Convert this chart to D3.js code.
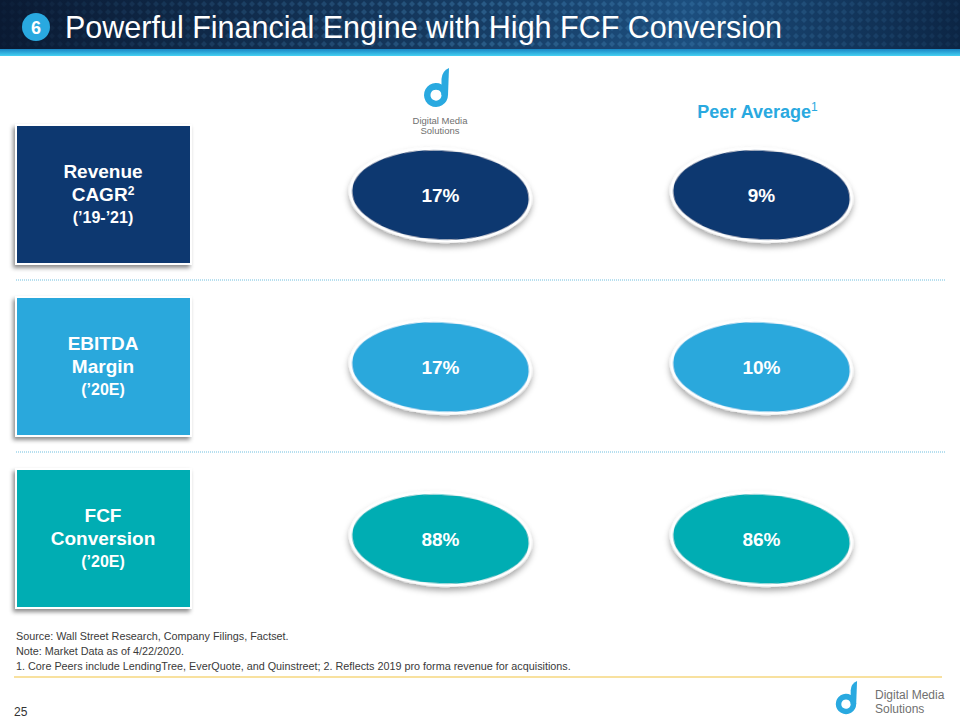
<!DOCTYPE html>
<html><head><meta charset="utf-8">
<script src="https://cdn.jsdelivr.net/npm/d3@7"></script>
<style>html,body{margin:0;padding:0;background:#fff;}svg{display:block;font-family:"Liberation Sans",Arial,sans-serif;}</style>
</head><body>
<script>
const metrics = ["Revenue", "EBITDA", "FCF"];
const labelLines = [["Revenue", "CAGR", "(’19-’21)"], ["EBITDA", "Margin", "(’20E)"], ["FCF", "Conversion", "(’20E)"]];
const labelSup = ["2", "", ""];
const columns = ["DMS", "Peer Average"];
const dmsValues = [17, 17, 88];
const peerValues = [9, 10, 86];
const rowColors = ["#0b3870", "#29a8dc", "#00adb3"];
const footnotes = [
  "Source: Wall Street Research, Company Filings, Factset.",
  "Note: Market Data as of 4/22/2020.",
  "1. Core Peers include LendingTree, EverQuote, and Quinstreet; 2. Reflects 2019 pro forma revenue for acquisitions."
];

const W = 960, H = 720;
const svg = d3.select("body").append("svg").attr("width", W).attr("height", H);
const defs = svg.append("defs");

// header gradient & pattern
const hg = defs.append("linearGradient").attr("id", "hg").attr("x1", 0).attr("x2", 1);
hg.append("stop").attr("offset", "0%").attr("stop-color", "#0a1a33");
hg.append("stop").attr("offset", "45%").attr("stop-color", "#15395f");
hg.append("stop").attr("offset", "72%").attr("stop-color", "#1c4e7e");
hg.append("stop").attr("offset", "100%").attr("stop-color", "#0c2544");
const cg = defs.append("linearGradient").attr("id", "cg").attr("x1", 0).attr("x2", 0).attr("y1", 0).attr("y2", 1);
cg.append("stop").attr("offset", "0%").attr("stop-color", "#1a86c4");
cg.append("stop").attr("offset", "100%").attr("stop-color", "#45d0f2");
const pat = defs.append("pattern").attr("id", "dp").attr("width", 8).attr("height", 8).attr("patternUnits", "userSpaceOnUse");
pat.append("path").attr("d", "M4,1 L7,4 L4,7 L1,4 Z").attr("fill", "#4a8fc0").attr("opacity", 0.4);
const pm = defs.append("linearGradient").attr("id", "pmg").attr("x1", 0).attr("x2", 1);
pm.append("stop").attr("offset", "0%").attr("stop-color", "#fff").attr("stop-opacity", 0.1);
pm.append("stop").attr("offset", "50%").attr("stop-color", "#fff").attr("stop-opacity", 0.9);
pm.append("stop").attr("offset", "80%").attr("stop-color", "#fff").attr("stop-opacity", 0.6);
pm.append("stop").attr("offset", "100%").attr("stop-color", "#fff").attr("stop-opacity", 0.2);
const mask = defs.append("mask").attr("id", "pmask");
mask.append("rect").attr("width", W).attr("height", 50).attr("fill", "url(#pmg)");

const sh = defs.append("filter").attr("id", "sh").attr("x", "-20%").attr("y", "-20%").attr("width", "140%").attr("height", "140%");
sh.append("feDropShadow").attr("dx", -2).attr("dy", 3).attr("stdDeviation", 2).attr("flood-color", "#000").attr("flood-opacity", 0.45);
const esh = defs.append("filter").attr("id", "esh").attr("x", "-20%").attr("y", "-30%").attr("width", "140%").attr("height", "160%");
esh.append("feDropShadow").attr("dx", 0).attr("dy", 4).attr("stdDeviation", 3).attr("flood-color", "#000").attr("flood-opacity", 0.35);

svg.append("rect").attr("width", W).attr("height", 50).attr("fill", "url(#hg)");
svg.append("rect").attr("width", W).attr("height", 50).attr("fill", "url(#dp)").attr("mask", "url(#pmask)");
svg.append("rect").attr("y", 49).attr("width", W).attr("height", 7).attr("fill", "url(#cg)");

svg.append("circle").attr("cx", 36).attr("cy", 27).attr("r", 14).attr("fill", "#29a9e0");
svg.append("text").attr("x", 36).attr("y", 33.5).attr("text-anchor", "middle").attr("fill", "#fff")
  .attr("font-weight", "bold").attr("font-size", 18).text("6");
svg.append("text").attr("x", 65).attr("y", 38).attr("fill", "#fff").attr("font-size", 30.5)
  .text("Powerful Financial Engine with High FCF Conversion");

// scales
const y = d3.scaleBand().domain(metrics).range([115, 631]).padding(0);
const x = d3.scaleBand().domain(columns).range([280, 922]).padding(0);

// logo drawing helper
function drawLogo(g, cx, cy, s) {
  const r = 12 * s, ri = 5.5 * s;
  g.append("path")
    .attr("d", `M${cx + r},${cy} A${r},${r} 0 1,1 ${cx + r - 0.01},${cy - 0.5} Z M${cx + ri},${cy} A${ri},${ri} 0 1,0 ${cx + ri - 0.01},${cy + 0.5} Z`)
    .attr("fill", "#29a9e0").attr("fill-rule", "evenodd");
  g.append("path")
    .attr("d", `M${cx + r - 6.5 * s},${cy} L${cx + r - 6.5 * s},${cy - 16 * s} Q${cx + r - 6 * s},${cy - 24 * s} ${cx + r + 1 * s},${cy - 27 * s} L${cx + r},${cy} Z`)
    .attr("fill", "#29a9e0");
}
const logo = svg.append("g");
drawLogo(logo, 436, 95, 1);
logo.append("text").attr("x", 440).attr("y", 124).attr("text-anchor", "middle").attr("font-size", 9.5).attr("fill", "#707070").text("Digital Media");
logo.append("text").attr("x", 440).attr("y", 134).attr("text-anchor", "middle").attr("font-size", 9.5).attr("fill", "#707070").text("Solutions");

const pa = svg.append("text").attr("x", x("Peer Average") + x.bandwidth() / 2 - 4).attr("y", 118).attr("text-anchor", "middle")
  .attr("fill", "#29a9e0").attr("font-weight", "bold").attr("font-size", 18);
pa.append("tspan").text("Peer Average");
pa.append("tspan").attr("font-size", 12).attr("font-weight", "normal").attr("dy", -7).text("1");

// row boxes
const rows = svg.selectAll("g.row").data(metrics).join("g").attr("class", "row");
rows.append("rect").attr("x", 16).attr("y", (d) => y(d) + 10).attr("width", 175).attr("height", 139)
  .attr("fill", (d, i) => rowColors[i]).attr("stroke", "#fff").attr("stroke-width", 2).attr("filter", "url(#sh)");
rows.each(function (d, i) {
  const g = d3.select(this);
  const cy = y(d) + 80;
  const lines = labelLines[i];
  g.append("text").attr("x", 103).attr("y", cy - 17).attr("text-anchor", "middle").attr("fill", "#fff")
    .attr("font-weight", "bold").attr("font-size", 19).text(lines[0]);
  const t2 = g.append("text").attr("x", 103).attr("y", cy + 6).attr("text-anchor", "middle").attr("fill", "#fff")
    .attr("font-weight", "bold").attr("font-size", 19);
  t2.append("tspan").text(lines[1]);
  if (labelSup[i]) t2.append("tspan").attr("font-size", 12).attr("dy", -6).text(labelSup[i]);
  g.append("text").attr("x", 103).attr("y", cy + 28).attr("text-anchor", "middle").attr("fill", "#fff")
    .attr("font-weight", "bold").attr("font-size", 16).text(lines[2]);
});

// dotted separators
metrics.slice(1).forEach((m) => {
  svg.append("line").attr("x1", 16).attr("x2", 945).attr("y1", y(m) - 7).attr("y2", y(m) - 7)
    .attr("stroke", "#6fbfdf").attr("stroke-width", 1).attr("stroke-dasharray", "1,1");
});

// ellipses
const cells = [];
metrics.forEach((m, i) => {
  cells.push({ m, col: "DMS", v: dmsValues[i], i });
  cells.push({ m, col: "Peer Average", v: peerValues[i], i });
});
const eg = svg.selectAll("g.cell").data(cells).join("g").attr("class", "cell")
  .attr("transform", (d) => `translate(${x(d.col) + x.bandwidth() / 2},${y(d.m) + 80})`);
eg.append("ellipse")
  .attr("cx", 0).attr("cy", 0)
  .attr("rx", 90).attr("ry", 46)
  .attr("transform", "rotate(3)")
  .attr("fill", (d) => rowColors[d.i]).attr("stroke", "#fff").attr("stroke-width", 3).attr("filter", "url(#esh)");
eg.append("text")
  .attr("x", 0).attr("y", 7)
  .attr("text-anchor", "middle").attr("fill", "#fff").attr("font-weight", "bold").attr("font-size", 19)
  .text((d) => d.v + "%");

// footnotes
svg.selectAll("text.fn").data(footnotes).join("text").attr("class", "fn")
  .attr("x", 16).attr("y", (d, i) => 640 + i * 15).attr("font-size", 10.8).attr("fill", "#3a3a3a").text((d) => d);
svg.append("line").attr("x1", 14).attr("x2", 942).attr("y1", 677).attr("y2", 677).attr("stroke", "#f2c440").attr("stroke-width", 1.2);
svg.append("text").attr("x", 14).attr("y", 716).attr("font-size", 12).attr("fill", "#333").text("25");

const logo2 = svg.append("g");
drawLogo(logo2, 846, 704, 0.85);
logo2.append("text").attr("x", 875).attr("y", 699).attr("font-size", 12).attr("fill", "#707070").text("Digital Media");
logo2.append("text").attr("x", 875).attr("y", 713).attr("font-size", 12).attr("fill", "#707070").text("Solutions");
</script>
</body></html>
